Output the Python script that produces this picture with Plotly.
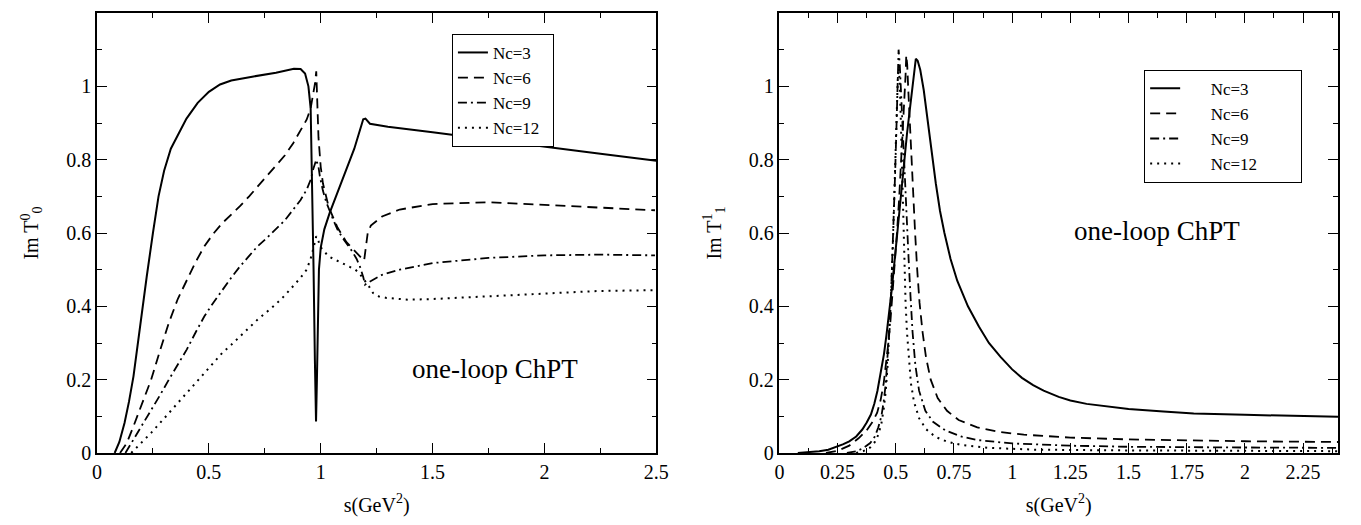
import plotly.graph_objects as go

# ---------------- Left panel: Im T^0_0 ----------------
s_l3 = [0.079, 0.10, 0.123, 0.143, 0.163, 0.182, 0.202, 0.222, 0.25, 0.275, 0.30, 0.33, 0.36, 0.40,
        0.45, 0.50, 0.55, 0.60, 0.70, 0.80, 0.88, 0.91, 0.93, 0.945, 0.955, 0.962, 0.968, 0.974,
        0.979, 0.983, 0.987, 0.992, 1.00, 1.016, 1.04, 1.075, 1.11, 1.15, 1.19, 1.20, 1.22, 1.30,
        1.50, 1.75, 2.00, 2.25, 2.50]
t_l3 = [0.0, 0.03, 0.082, 0.14, 0.209, 0.30, 0.40, 0.48, 0.60, 0.70, 0.77, 0.83, 0.865, 0.912,
        0.955, 0.985, 1.005, 1.016, 1.027, 1.037, 1.048, 1.047, 1.035, 1.0, 0.94, 0.75, 0.5, 0.25,
        0.086, 0.2, 0.38, 0.5, 0.56, 0.61, 0.655, 0.71, 0.77, 0.83, 0.91, 0.912, 0.898, 0.89,
        0.875, 0.856, 0.836, 0.816, 0.797]

s_l6 = [0.103, 0.133, 0.163, 0.20, 0.242, 0.282, 0.321, 0.361, 0.401, 0.44, 0.48, 0.52, 0.56, 0.60,
        0.639, 0.68, 0.718, 0.76, 0.798, 0.84, 0.877, 0.91, 0.937, 0.955, 0.966, 0.975, 0.98,
        0.985, 0.99, 1.00, 1.01, 1.036, 1.075, 1.115, 1.155, 1.185, 1.194, 1.20, 1.21, 1.224,
        1.274, 1.353, 1.50, 1.75, 2.00, 2.25, 2.494]
t_l6 = [0.0, 0.027, 0.073, 0.135, 0.20, 0.28, 0.355, 0.42, 0.473, 0.52, 0.564, 0.598, 0.627, 0.65,
        0.673, 0.70, 0.727, 0.755, 0.782, 0.812, 0.845, 0.88, 0.909, 0.94, 0.973, 1.01, 1.041,
        0.95, 0.86, 0.78, 0.735, 0.67, 0.615, 0.575, 0.548, 0.53, 0.525, 0.56, 0.60, 0.62,
        0.645, 0.664, 0.679, 0.684, 0.677, 0.67, 0.662]

s_l9 = [0.127, 0.163, 0.20, 0.242, 0.282, 0.321, 0.361, 0.401, 0.44, 0.48, 0.52, 0.56, 0.60, 0.639,
        0.68, 0.718, 0.76, 0.798, 0.84, 0.877, 0.91, 0.937, 0.955, 0.966, 0.975, 0.98, 0.99,
        0.996, 1.01, 1.026, 1.05, 1.075, 1.105, 1.135, 1.16, 1.175, 1.19, 1.198, 1.215, 1.234,
        1.274, 1.353, 1.50, 1.75, 2.00, 2.25, 2.494]
t_l9 = [0.0, 0.036, 0.075, 0.118, 0.158, 0.20, 0.24, 0.282, 0.328, 0.373, 0.41, 0.445, 0.478, 0.509,
        0.537, 0.564, 0.587, 0.609, 0.635, 0.664, 0.69, 0.718, 0.745, 0.773, 0.79, 0.80, 0.78,
        0.755, 0.715, 0.682, 0.645, 0.609, 0.58, 0.555, 0.53, 0.509, 0.48, 0.459, 0.466, 0.473,
        0.486, 0.50, 0.518, 0.532, 0.539, 0.541, 0.539]

s_l12 = [0.153, 0.20, 0.242, 0.282, 0.321, 0.361, 0.401, 0.44, 0.48, 0.52, 0.56, 0.60, 0.639, 0.68,
         0.718, 0.76, 0.798, 0.84, 0.877, 0.91, 0.937, 0.955, 0.966, 0.975, 0.98, 0.99, 0.996,
         1.015, 1.036, 1.065, 1.095, 1.125, 1.155, 1.175, 1.194, 1.215, 1.234, 1.26, 1.294,
         1.393, 1.502, 1.75, 1.998, 2.246, 2.494]
t_l12 = [0.0, 0.028, 0.055, 0.082, 0.109, 0.137, 0.164, 0.19, 0.218, 0.245, 0.273, 0.295, 0.318, 0.341,
         0.364, 0.385, 0.405, 0.43, 0.455, 0.478, 0.50, 0.53, 0.555, 0.575, 0.591, 0.578, 0.564,
         0.55, 0.536, 0.527, 0.518, 0.509, 0.50, 0.488, 0.473, 0.455, 0.436, 0.427, 0.423,
         0.418, 0.42, 0.427, 0.436, 0.442, 0.444]

# ---------------- Right panel: Im T^1_1 ----------------
s_r3 = [0.079, 0.13, 0.171, 0.21, 0.245, 0.275, 0.30, 0.33, 0.356, 0.375, 0.393, 0.408, 0.421, 0.435,
        0.449, 0.46, 0.471, 0.482, 0.492, 0.503, 0.514, 0.525, 0.536, 0.548, 0.56, 0.57, 0.579,
        0.586, 0.594, 0.605, 0.62, 0.632, 0.644, 0.658, 0.672, 0.69, 0.709, 0.735, 0.764, 0.81,
        0.857, 0.90, 0.95, 1.00, 1.042, 1.09, 1.135, 1.20, 1.25, 1.32, 1.40, 1.50, 1.65, 1.78,
        2.00, 2.20, 2.40]
t_r3 = [0.0, 0.002, 0.005, 0.009, 0.016, 0.024, 0.032, 0.045, 0.064, 0.083, 0.105, 0.135, 0.169, 0.215,
        0.269, 0.322, 0.379, 0.442, 0.506, 0.58, 0.652, 0.725, 0.798, 0.87, 0.935, 0.99, 1.04,
        1.075, 1.07, 1.045, 0.99, 0.93, 0.87, 0.80, 0.735, 0.66, 0.60, 0.53, 0.47, 0.40,
        0.345, 0.30, 0.262, 0.228, 0.205, 0.185, 0.17, 0.153, 0.143, 0.134, 0.127, 0.12, 0.113, 0.108,
        0.104, 0.101, 0.099]

s_r6 = [0.20, 0.25, 0.30, 0.34, 0.375, 0.40, 0.42, 0.435, 0.448, 0.458, 0.468, 0.477, 0.486, 0.495,
        0.505, 0.514, 0.523, 0.532, 0.538, 0.542, 0.545, 0.549, 0.553, 0.56, 0.567, 0.575, 0.583,
        0.592, 0.602, 0.615, 0.63, 0.65, 0.68, 0.72, 0.77, 0.85, 0.95, 1.05, 1.25, 1.50, 1.75,
        2.00, 2.20, 2.40]
t_r6 = [0.0, 0.006, 0.02, 0.04, 0.062, 0.085, 0.11, 0.145, 0.19, 0.24, 0.30, 0.36, 0.43, 0.50,
        0.60, 0.69, 0.79, 0.89, 0.97, 1.03, 1.085, 1.06, 1.0, 0.90, 0.80, 0.70, 0.60,
        0.50, 0.41, 0.33, 0.26, 0.20, 0.15, 0.115, 0.09, 0.07, 0.057, 0.05, 0.042, 0.037, 0.034,
        0.032, 0.031, 0.030]

s_r9 = [0.29, 0.33, 0.36, 0.39, 0.41, 0.425, 0.438, 0.448, 0.457, 0.465, 0.473, 0.48, 0.486, 0.492,
        0.497, 0.502, 0.507, 0.512, 0.517, 0.523, 0.53, 0.538, 0.546, 0.555, 0.563, 0.572, 0.584,
        0.60, 0.627, 0.66, 0.712, 0.78, 0.855, 1.00, 1.25, 1.50, 2.00, 2.40]
t_r9 = [0.0, 0.005, 0.013, 0.027, 0.045, 0.07, 0.10, 0.14, 0.19, 0.26, 0.35, 0.44, 0.54, 0.65,
        0.76, 0.87, 0.98, 1.10, 1.06, 0.97, 0.86, 0.75, 0.64, 0.53, 0.43, 0.33, 0.24,
        0.17, 0.115, 0.085, 0.062, 0.045, 0.035, 0.026, 0.02, 0.017, 0.015, 0.014]

s_r12 = [0.33, 0.36, 0.39, 0.41, 0.425, 0.438, 0.448, 0.457, 0.465, 0.472, 0.479, 0.485, 0.49, 0.495,
         0.50, 0.505, 0.509, 0.513, 0.517, 0.521, 0.525, 0.529, 0.533, 0.537, 0.542, 0.548, 0.555,
         0.565, 0.578, 0.60, 0.63, 0.67, 0.72, 0.78, 0.90, 1.10, 1.50, 2.00, 2.40]
t_r12 = [0.0, 0.005, 0.015, 0.03, 0.05, 0.08, 0.12, 0.17, 0.24, 0.32, 0.42, 0.52, 0.62, 0.73,
         0.85, 0.96, 1.03, 1.05, 1.01, 0.92, 0.82, 0.72, 0.60, 0.50, 0.41, 0.33, 0.26,
         0.19, 0.14, 0.095, 0.065, 0.044, 0.031, 0.022, 0.014, 0.009, 0.007, 0.006, 0.005]

names = ["Nc=3", "Nc=6", "Nc=9", "Nc=12"]
tick_labels_y = ["0", "0.2", "0.4", "0.6", "0.8", "1"]
tick_vals_y = [0, 0.2, 0.4, 0.6, 0.8, 1]

dashes = ["solid", "10px,6px", "9px,4px,2px,4px", "2px,5px"]
widths = [2.0, 1.8, 1.8, 2.0]
NB = "\u00a0"

FONT = "Liberation Serif"

fig = go.Figure()

left_sets = [(s_l3, t_l3), (s_l6, t_l6), (s_l9, t_l9), (s_l12, t_l12)]
right_sets = [(s_r3, t_r3), (s_r6, t_r6), (s_r9, t_r9), (s_r12, t_r12)]

for (sx, ty), nm, ds, w in zip(left_sets, names, dashes, widths):
    fig.add_trace(go.Scatter(x=sx, y=ty, mode="lines", name=nm + NB * 2,
                             line=dict(color="black", width=w, dash=ds),
                             xaxis="x", yaxis="y", legend="legend"))

for (sx, ty), nm, ds, w in zip(right_sets, names, dashes, widths):
    fig.add_trace(go.Scatter(x=sx, y=ty, mode="lines", name=NB * 6 + nm + NB * 9,
                             line=dict(color="black", width=w, dash=ds),
                             xaxis="x2", yaxis="y2", legend="legend2"))

axis_common = dict(showline=True, linecolor="black", linewidth=1.5, mirror="allticks",
                   ticks="inside", ticklen=10, tickwidth=1.3, tickcolor="black",
                   showgrid=False, zeroline=False,
                   tickfont=dict(family=FONT, size=20, color="black"))
minor_x = dict(ticks="inside", ticklen=5, tickcolor="black", tickwidth=1.1)
TF = dict(family=FONT, size=20, color="black")
LF = dict(family=FONT, size=17, color="black")

fig.update_layout(
    width=1361, height=525,
    margin=dict(l=97, r=16, t=11, b=72),
    paper_bgcolor="white", plot_bgcolor="white",
    font=dict(family=FONT, color="black"),
    xaxis=dict(domain=[0, 0.4507], range=[0, 2.5], anchor="y", tick0=0, dtick=0.5,
               minor=dict(dtick=0.25, tick0=0, **minor_x),
               title=dict(text="s(GeV<sup>2</sup>)", font=TF, standoff=16),
               **axis_common),
    yaxis=dict(domain=[0, 1], range=[0, 1.2], anchor="x", tickvals=tick_vals_y, ticktext=tick_labels_y,
               minor=dict(tickmode="linear", dtick=0.1, tick0=0, **minor_x),
               title=dict(text="Im T<sup>0</sup><sub>0</sub>", font=TF, standoff=22),
               **axis_common),
    xaxis2=dict(domain=[0.5499, 1], range=[0, 2.4], anchor="y2", tick0=0, dtick=0.25,
                minor=dict(dtick=0.125, tick0=0, **minor_x),
                title=dict(text="s(GeV<sup>2</sup>)", font=TF, standoff=16),
                **axis_common),
    yaxis2=dict(domain=[0, 1], range=[0, 1.2], anchor="x2", tickvals=tick_vals_y, ticktext=tick_labels_y,
                minor=dict(tickmode="linear", dtick=0.1, tick0=0, **minor_x),
                title=dict(text="Im T<sup>1</sup><sub>1</sub>", font=TF, standoff=22),
                **axis_common),
    legend=dict(x=0.286, y=0.9525, xanchor="left", yanchor="top", bgcolor="white",
                bordercolor="black", borderwidth=1, font=LF, tracegroupgap=0),
    legend2=dict(x=0.8438, y=0.871, xanchor="left", yanchor="top", bgcolor="white",
                 bordercolor="black", borderwidth=1, font=LF, tracegroupgap=0),
    showlegend=True,
    annotations=[
        dict(text="one-loop ChPT", x=1.78, y=0.228, xref="x", yref="y", showarrow=False,
             font=dict(family=FONT, size=27, color="black")),
        dict(text="one-loop ChPT", x=1.622, y=0.606, xref="x2", yref="y2", showarrow=False,
             font=dict(family=FONT, size=27, color="black")),
    ],
)

fig.write_html("out.html", config={"displayModeBar": False},
               post_script="document.body.style.margin='0';")
